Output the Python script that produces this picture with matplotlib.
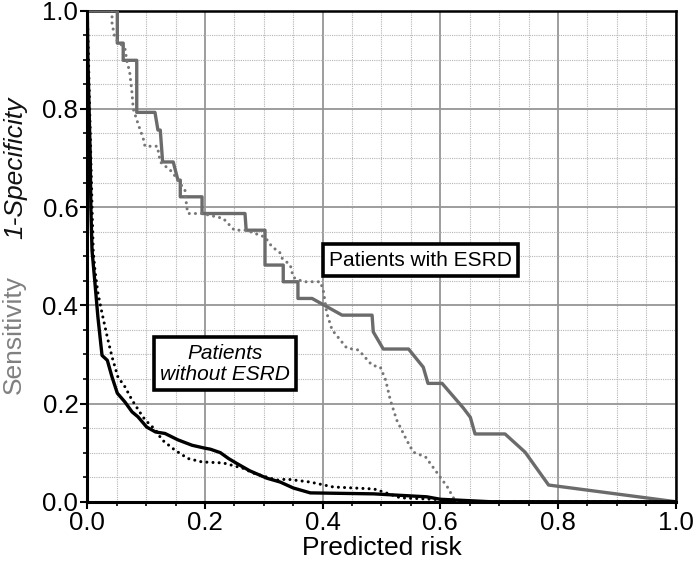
import matplotlib.pyplot as plt
from matplotlib.ticker import MultipleLocator, FormatStrFormatter

plt.rcParams['font.family'] = ['Liberation Sans', 'DejaVu Sans']

# patients with ESRD (grey), solid and dotted models
esrd_solid_x = [0, 0.051, 0.051, 0.061, 0.061, 0.084, 0.084, 0.115, 0.12, 0.124, 0.128,
                0.146, 0.154, 0.158, 0.158, 0.195, 0.195, 0.268, 0.27, 0.302, 0.302,
                0.333, 0.333, 0.358, 0.358, 0.382, 0.433, 0.484, 0.486, 0.503, 0.546,
                0.571, 0.579, 0.603, 0.639, 0.651, 0.659, 0.710, 0.744, 0.784, 1.0]
esrd_solid_y = [1.0, 1.0, 0.934, 0.934, 0.899, 0.899, 0.793, 0.793, 0.757, 0.757, 0.692,
                0.692, 0.655, 0.655, 0.621, 0.621, 0.587, 0.587, 0.553, 0.553, 0.482,
                0.482, 0.448, 0.448, 0.414, 0.414, 0.380, 0.380, 0.346, 0.311, 0.311,
                0.274, 0.241, 0.241, 0.191, 0.172, 0.138, 0.138, 0.101, 0.034, 0.0]

esrd_dot_x = [0.042, 0.042, 0.047, 0.064, 0.067, 0.072, 0.076, 0.078, 0.087, 0.095, 0.098,
              0.119, 0.124, 0.144, 0.166, 0.169, 0.171, 0.195, 0.231, 0.25, 0.27, 0.302,
              0.314, 0.327, 0.331, 0.345, 0.350, 0.367, 0.396, 0.401, 0.407, 0.416, 0.441,
              0.461, 0.484, 0.498, 0.507, 0.515, 0.526, 0.543, 0.554, 0.575, 0.595, 0.612,
              0.626, 1.0]
esrd_dot_y = [1.0, 0.974, 0.944, 0.923, 0.899, 0.875, 0.832, 0.800, 0.767, 0.740, 0.724,
              0.724, 0.692, 0.672, 0.634, 0.600, 0.587, 0.587, 0.577, 0.553, 0.553, 0.539,
              0.519, 0.508, 0.496, 0.482, 0.457, 0.448, 0.448, 0.431, 0.384, 0.350, 0.313,
              0.309, 0.278, 0.274, 0.248, 0.207, 0.166, 0.125, 0.101, 0.091, 0.058, 0.030,
              0.0, 0.0]

# patients without ESRD (black)
no_solid_x = [0, 0.001, 0.003, 0.005, 0.006, 0.008, 0.013, 0.018, 0.025, 0.034, 0.042,
              0.051, 0.064, 0.076, 0.086, 0.101, 0.116, 0.132, 0.154, 0.178, 0.2, 0.209,
              0.226, 0.24, 0.254, 0.276, 0.305, 0.328, 0.350, 0.379, 0.487, 0.577, 0.6,
              0.685, 1.0]
no_solid_y = [1.0, 0.9, 0.8, 0.7, 0.6, 0.512, 0.445, 0.376, 0.298, 0.288, 0.254, 0.221,
              0.203, 0.183, 0.173, 0.152, 0.142, 0.139, 0.126, 0.115, 0.109, 0.107, 0.100,
              0.088, 0.078, 0.063, 0.048, 0.040, 0.028, 0.018, 0.016, 0.010, 0.005, 0.0, 0.0]

no_dot_x = [0, 0.002, 0.004, 0.006, 0.008, 0.01, 0.013, 0.018, 0.025, 0.034, 0.042, 0.052,
            0.064, 0.076, 0.09, 0.098, 0.116, 0.127, 0.149, 0.171, 0.195, 0.231, 0.265,
            0.283, 0.322, 0.339, 0.379, 0.418, 0.487, 0.503, 0.532, 0.589, 0.62, 1.0]
no_dot_y = [1.0, 0.9, 0.8, 0.7, 0.6, 0.512, 0.471, 0.425, 0.384, 0.335, 0.295, 0.254,
            0.234, 0.207, 0.181, 0.167, 0.146, 0.126, 0.105, 0.088, 0.081, 0.079, 0.068,
            0.058, 0.044, 0.046, 0.040, 0.030, 0.026, 0.020, 0.008, 0.005, 0.0, 0.0]

fig = plt.figure(figsize=(6.93, 5.65), dpi=100)
ax = fig.add_axes([0.126, 0.112, 0.849, 0.869])

dots = (0, (0.01, 2.0))
ax.plot(esrd_solid_x, esrd_solid_y, color='#6b6b6b', lw=2.4, zorder=3)
ax.plot(esrd_dot_x, esrd_dot_y, color='#777777', lw=2.2, ls=dots,
        dash_capstyle='round', zorder=3)
ax.plot(no_solid_x, no_solid_y, color='black', lw=2.4, zorder=4)
ax.plot(no_dot_x, no_dot_y, color='black', lw=2.2, ls=dots,
        dash_capstyle='round', zorder=4)

ax.set_xlim(0, 1)
ax.set_ylim(0, 1)
for a in (ax.xaxis, ax.yaxis):
    a.set_major_locator(MultipleLocator(0.2))
    a.set_minor_locator(MultipleLocator(0.05))
    a.set_major_formatter(FormatStrFormatter('%.1f'))

ax.grid(which='major', color='#959595', lw=1.3, ls='-')
ax.grid(which='minor', color='#b5b5b5', lw=0.8, ls=(0, (1, 1)))
ax.set_axisbelow(True)

ax.tick_params(which='major', direction='out', length=5, width=1.5,
               labelsize=18.5, pad=1.5, colors='black')
ax.tick_params(which='minor', direction='out', length=3, width=1.2)
for side in ('left', 'bottom'):
    ax.spines[side].set_linewidth(2.2)
for side in ('top', 'right'):
    ax.spines[side].set_linewidth(1.8)

ax.set_xlabel('Predicted risk', fontsize=19, labelpad=1)

fig.text(15 / 693, 1 - 168 / 565, '1-Specificity', rotation=90, style='italic',
         fontsize=19, ha='center', va='center', color='#111111')
fig.text(14 / 693, 1 - 335 / 565, 'Sensitivity', rotation=90,
         fontsize=19, ha='center', va='center', color='#808080')

box = dict(boxstyle='square,pad=0.3', facecolor='white', edgecolor='black', lw=2.6)
ax.text(0.566, 0.492, 'Patients with ESRD', fontsize=15, ha='center', va='center',
        bbox=box, zorder=6)
ax.text(0.234, 0.281, 'Patients\nwithout ESRD', fontsize=15, style='italic',
        ha='center', va='center', bbox=box, zorder=6, linespacing=1.15)

fig.savefig('out.png', dpi=100)
